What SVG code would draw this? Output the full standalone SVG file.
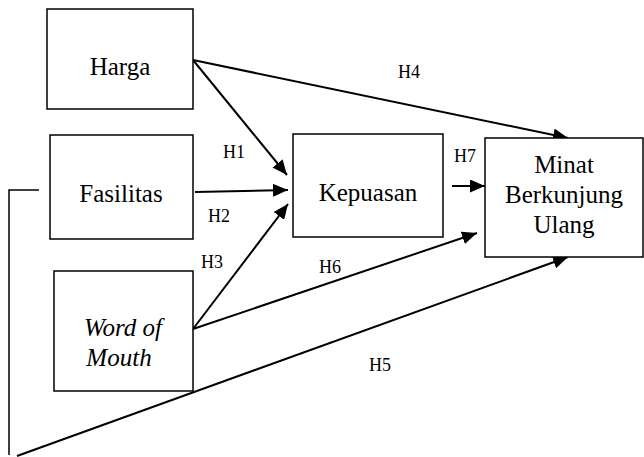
<svg xmlns="http://www.w3.org/2000/svg" width="644" height="457" viewBox="0 0 644 457">
<style>
.box{fill:#fff;stroke:#000;stroke-width:1.5}
.t{font-size:25px;fill:#000;text-anchor:middle}
.i{font-style:italic}
.l{font-size:18px;fill:#000}
.c{fill:none;stroke:#000;stroke-width:2}
</style>
<defs>
<marker id="ah" viewBox="0 0 15 13" refX="15" refY="6.5" markerWidth="15" markerHeight="13" markerUnits="userSpaceOnUse" orient="auto">
<path d="M0,0 L15,6.5 L0,13 z" fill="#000"/>
</marker>
</defs>
<g id="connectors">
<line class="c" x1="193" y1="60" x2="568" y2="138" marker-end="url(#ah)"/>
<line class="c" x1="193" y1="60" x2="287" y2="175" marker-end="url(#ah)"/>
<line class="c" x1="195" y1="192" x2="288" y2="190" marker-end="url(#ah)"/>
<line class="c" x1="193" y1="329" x2="288" y2="204" marker-end="url(#ah)"/>
<line class="c" x1="193" y1="329" x2="477" y2="233" marker-end="url(#ah)"/>
<line class="c" x1="452" y1="186" x2="485" y2="186" marker-end="url(#ah)"/>
<polyline class="c" points="39,190 9,190 9,455" style="stroke-width:1.5"/>
<line class="c" x1="17" y1="456" x2="568" y2="257" marker-end="url(#ah)"/>
</g>
<g font-family="Liberation Serif, Times New Roman, DejaVu Serif, serif">
<g id="harga"><rect class="box" x="47" y="9" width="146" height="100"/><text class="t" x="120" y="75">Harga</text></g>
<g id="fasilitas"><rect class="box" x="50" y="135" width="143" height="104"/><text class="t" x="121" y="202">Fasilitas</text></g>
<g id="wom"><rect class="box" x="54" y="271" width="139" height="120"/><text class="t i" x="123" y="336">Word of</text><text class="t i" x="119" y="366">Mouth</text></g>
<g id="kepuasan"><rect class="box" x="293" y="134" width="150" height="103"/><text class="t" x="368" y="201">Kepuasan</text></g>
<g id="minat"><rect class="box" x="485" y="138" width="158" height="119"/><text class="t" x="564" y="173">Minat</text><text class="t" x="564" y="203">Berkunjung</text><text class="t" x="564" y="233">Ulang</text></g>
<g id="labels">
<text class="l" x="223" y="158">H1</text>
<text class="l" x="208" y="222">H2</text>
<text class="l" x="201" y="268">H3</text>
<text class="l" x="398" y="78">H4</text>
<text class="l" x="369" y="371">H5</text>
<text class="l" x="319" y="273">H6</text>
<text class="l" x="454" y="162">H7</text>
</g>
</g>
</svg>
